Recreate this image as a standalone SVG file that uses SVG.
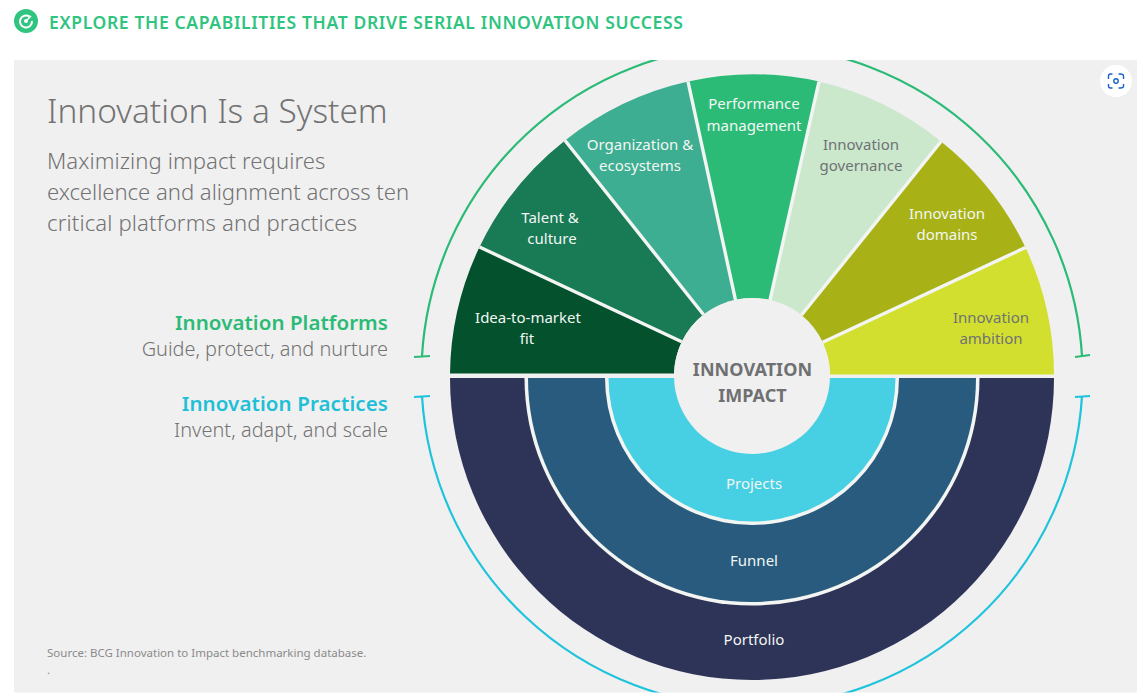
<svg xmlns="http://www.w3.org/2000/svg" width="1143" height="697" viewBox="0 0 1143 697">
<style>
text{font-family:"Noto Sans","Open Sans","DejaVu Sans",sans-serif}
.l{font-size:15px;fill:#f2f7f3;text-anchor:middle}
.g{font-size:15px;fill:#6f7274;text-anchor:middle}
.h{font-size:20.5px;font-weight:600;text-anchor:end}
.s{font-size:19.9px;fill:#737373;text-anchor:end}
.d{font-size:22.1px;fill:#737373}
.i{font-size:18px;font-weight:700;fill:#6f7072;text-anchor:middle;letter-spacing:.05px}
.sep{stroke:#f3f5f3;stroke-width:3.4;fill:none}
.br{fill:none;stroke-width:2.2}
</style>
<defs><clipPath id="panel"><rect x="14" y="60" width="1123" height="632.5"/></clipPath></defs>
<rect width="1143" height="697" fill="#fff"/>
<g id="header">
<circle cx="26" cy="21" r="12" fill="#2fc47f"/>
<path d="M29.5 16.6A6 6 0 1 0 32 21" fill="none" stroke="#fff" stroke-width="2"/>
<circle cx="26" cy="21" r="2" fill="#fff"/>
<path d="M26 21L31 16" stroke="#fff" stroke-width="1.6"/>
<text x="49" y="29" font-size="17.5" font-weight="600" fill="#2fc47f" letter-spacing=".65">EXPLORE THE CAPABILITIES THAT DRIVE SERIAL INNOVATION SUCCESS</text>
</g>
<rect id="panel-bg" x="14" y="60" width="1123" height="632.5" fill="#f0f0f0"/>
<g id="intro">
<text x="47" y="122.5" font-size="33.4" fill="#737373" font-weight="300">Innovation Is a System</text>
<text x="47" y="168.5" class="d" font-weight="300" letter-spacing=".08">Maximizing impact requires</text>
<text x="47" y="199.5" class="d" font-weight="300" letter-spacing="-.03">excellence and alignment across ten</text>
<text x="47" y="230.5" class="d" font-weight="300" letter-spacing=".13">critical platforms and practices</text>
</g>
<g id="legend-platforms">
<text x="388" y="329.5" class="h" fill="#2bbb77" letter-spacing=".05">Innovation Platforms</text>
<text x="388" y="356" class="s" font-weight="300">Guide, protect, and nurture</text>
</g>
<g id="legend-practices">
<text x="388" y="410.5" class="h" fill="#1fbfd8" letter-spacing=".1">Innovation Practices</text>
<text x="388" y="437" class="s" font-weight="300" letter-spacing=".05">Invent, adapt, and scale</text>
</g>
<g id="connectors" clip-path="url(#panel)">
<path class="br" stroke="#2bbb77" d="M422 356A330.6 330.6 0 0 1 1082 356M414 357L430 356M1075 357L1090 355"/>
<path class="br" stroke="#1fc3dc" d="M422 396A330.6 330.6 0 0 0 1082 396M414 397L430 396M1075 397L1090 396"/>
</g>
<g id="idea-to-market-fit"><path fill="#03522d" d="M450 373.5A302 302 0 0 1 479.5 247L681.7 341.7A78 78 0 0 0 674 373.5Z"/>
<text class="l" x="528" y="323">Idea-to-market</text><text class="l" x="527" y="344">fit</text></g>
<g id="talent-culture"><path fill="#197a56" d="M479.5 247A302 302 0 0 1 565 140.5L703.4 314.5A78 78 0 0 0 681.7 341.7Z"/>
<text class="l" x="550" y="223">Talent &amp;</text><text class="l" x="552" y="244">culture</text></g>
<g id="organization-ecosystems"><path fill="#3eae92" d="M565 140.5A302 302 0 0 1 688 81.5L735.5 300A78 78 0 0 0 703.4 314.5Z"/>
<text class="l" x="640" y="150">Organization &amp;</text><text class="l" x="640" y="171">ecosystems</text></g>
<g id="performance-management"><path fill="#2bbb77" d="M688 81.5A302 302 0 0 1 819 81.5L770 300A78 78 0 0 0 735.5 300Z"/>
<text class="l" x="754" y="109">Performance</text><text class="l" x="754" y="131">management</text></g>
<g id="innovation-governance"><path fill="#cbe8cd" d="M819 81.5A302 302 0 0 1 941 141.5L801.5 315A78 78 0 0 0 770 300Z"/>
<text class="g" x="861" y="150">Innovation</text><text class="g" x="861" y="171">governance</text></g>
<g id="innovation-domains"><path fill="#a8b217" d="M941 141.5A302 302 0 0 1 1025.5 247.5L822.7 342.3A78 78 0 0 0 801.5 315Z"/>
<text class="l" x="947" y="219">Innovation</text><text class="l" x="947" y="240">domains</text></g>
<g id="innovation-ambition"><path fill="#d2df2e" d="M1025.5 247.5A302 302 0 0 1 1054 374.5L830 374.5A78 78 0 0 0 822.7 342.3Z"/>
<text class="g" x="991" y="323">Innovation</text><text class="g" x="991" y="344">ambition</text></g>
<g id="dividers">
<path class="sep" d="M479.5 247L681.7 341.7M565 140.5L703.4 314.5M688 81.5L735.5 300M819 81.5L770 300M941 141.5L801.5 315M1025.5 247.5L822.7 342.3"/>
</g>
<g id="portfolio"><path fill="#2e3358" d="M450 378H1054A302 302 0 0 1 450 378Z"/>
<text class="l" x="754" y="645">Portfolio</text></g>
<path id="gap-outer" fill="#f3f5f3" d="M524.5 378H979.5A227.5 227.5 0 0 1 524.5 378Z"/>
<g id="funnel"><path fill="#285b7d" d="M528 378H976A224 224 0 0 1 528 378Z"/>
<text class="l" x="754" y="566">Funnel</text></g>
<path id="gap-inner" fill="#f3f5f3" d="M605 378H899A147 147 0 0 1 605 378Z"/>
<g id="projects"><path fill="#47cfe3" d="M608.5 378H895.5A143.5 143.5 0 0 1 608.5 378Z"/>
<text class="l" x="754" y="489">Projects</text></g>
<g id="innovation-impact"><circle cx="752" cy="376" r="78" fill="#f0f0f0"/>
<text class="i" x="752.5" y="376">INNOVATION</text><text class="i" x="752.5" y="402">IMPACT</text></g>
<g id="camera-button">
<circle cx="1116" cy="81" r="16" fill="#fff"/>
<path d="M1109 79V76Q1109 74 1111 74H1113M1119 74H1121Q1124 74 1124 76V79M1124 84V86Q1124 88 1121 88H1119M1113 88H1111Q1109 88 1109 86V84" fill="none" stroke="#1a63c9" stroke-width="1.4" transform="translate(-.5 0)"/>
<circle cx="1116" cy="81" r="2.2" fill="none" stroke="#1a63c9" stroke-width="1.4"/>
</g>
<g id="source">
<text x="47" y="657" font-size="11.5" fill="#8a8a8a">Source: BCG Innovation to Impact benchmarking database.</text>
<text x="47" y="674" font-size="11.5" fill="#8a8a8a">.</text>
</g>
</svg>
